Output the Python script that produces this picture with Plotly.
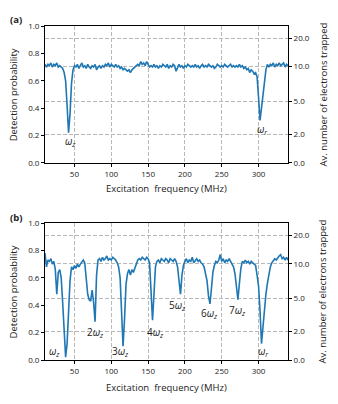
import numpy as np
import plotly.graph_objects as go

# excitation frequency grid (MHz), shared by both panels
freq = np.arange(10, 341, 2)

# (a) detection probability
prob_a = [
    0.72, 0.70, 0.72, 0.71, 0.73, 0.70, 0.72, 0.71, 0.73, 0.70,   # 10-28
    0.71, 0.70, 0.69, 0.66, 0.60, 0.42, 0.22, 0.36, 0.58, 0.68,   # 30-48
    0.71, 0.70, 0.72, 0.69, 0.71, 0.73, 0.70, 0.71, 0.69, 0.72,   # 50-68
    0.70, 0.69, 0.71, 0.70, 0.72, 0.68, 0.70, 0.71, 0.69, 0.71,   # 70-88
    0.70, 0.72, 0.71, 0.73, 0.70, 0.72, 0.71, 0.70, 0.72, 0.70,   # 90-108
    0.71, 0.69, 0.70, 0.68, 0.69, 0.68, 0.67, 0.68, 0.66, 0.68,   # 110-128
    0.69, 0.70, 0.71, 0.72, 0.71, 0.74, 0.72, 0.73, 0.71, 0.74,   # 130-148
    0.72, 0.70, 0.71, 0.70, 0.72, 0.70, 0.71, 0.69, 0.71, 0.70,   # 150-168
    0.72, 0.71, 0.70, 0.72, 0.69, 0.71, 0.70, 0.72, 0.71, 0.67,   # 170-188
    0.70, 0.72, 0.70, 0.71, 0.69, 0.71, 0.70, 0.72, 0.71, 0.70,   # 190-208
    0.71, 0.70, 0.72, 0.70, 0.71, 0.69, 0.71, 0.72, 0.70, 0.71,   # 210-228
    0.70, 0.72, 0.71, 0.70, 0.71, 0.69, 0.70, 0.72, 0.71, 0.70,   # 230-248
    0.71, 0.70, 0.72, 0.71, 0.70, 0.71, 0.72, 0.70, 0.71, 0.70,   # 250-268
    0.71, 0.70, 0.72, 0.70, 0.71, 0.69, 0.70, 0.68, 0.69, 0.66,   # 270-288
    0.68, 0.67, 0.65, 0.66, 0.63, 0.48, 0.31, 0.40, 0.50, 0.60,   # 290-308
    0.68, 0.72, 0.70, 0.72, 0.71, 0.73, 0.70, 0.72, 0.71, 0.73,   # 310-328
    0.71, 0.72, 0.73, 0.70, 0.72, 0.71,                           # 330-340
]

# (b) detection probability
prob_b = [
    0.78, 0.68, 0.73, 0.72, 0.74, 0.70, 0.72, 0.66, 0.48, 0.64,   # 10-28
    0.66, 0.60, 0.42, 0.26, 0.02, 0.12, 0.33, 0.58, 0.68, 0.66,   # 30-48
    0.69, 0.67, 0.70, 0.68, 0.70, 0.72, 0.73, 0.71, 0.58, 0.48,   # 50-68
    0.44, 0.43, 0.51, 0.42, 0.28, 0.62, 0.73, 0.74, 0.72, 0.75,   # 70-88
    0.73, 0.74, 0.76, 0.73, 0.74, 0.73, 0.75, 0.74, 0.73, 0.71,   # 90-108
    0.68, 0.60, 0.40, 0.10, 0.30, 0.55, 0.63, 0.66, 0.62, 0.66,   # 110-128
    0.64, 0.67, 0.70, 0.73, 0.74, 0.73, 0.75, 0.74, 0.73, 0.75,   # 130-148
    0.74, 0.71, 0.52, 0.29, 0.48, 0.68, 0.72, 0.73, 0.71, 0.74,   # 150-168
    0.73, 0.72, 0.74, 0.73, 0.71, 0.74, 0.73, 0.72, 0.74, 0.72,   # 170-188
    0.68, 0.60, 0.48, 0.62, 0.69, 0.72, 0.74, 0.71, 0.73, 0.72,   # 190-208
    0.75, 0.71, 0.73, 0.74, 0.72, 0.73, 0.71, 0.70, 0.68, 0.64,   # 210-228
    0.58, 0.47, 0.41, 0.52, 0.64, 0.69, 0.72, 0.71, 0.73, 0.77,   # 230-248
    0.72, 0.74, 0.71, 0.73, 0.72, 0.74, 0.72, 0.70, 0.68, 0.63,   # 250-268
    0.52, 0.44, 0.56, 0.67, 0.72, 0.71, 0.73, 0.71, 0.72, 0.70,   # 270-288
    0.72, 0.71, 0.70, 0.69, 0.62, 0.54, 0.36, 0.12, 0.24, 0.38,   # 290-308
    0.48, 0.56, 0.63, 0.68, 0.71, 0.73, 0.74, 0.73, 0.75, 0.76,   # 310-328
    0.77, 0.74, 0.75, 0.73, 0.75, 0.73,                           # 330-340
]

# right axis: electrons trapped, drawn at these probability levels
electron_pos = [0.0, 0.211, 0.451, 0.703, 0.912]
electron_labels = ["0.0", "2.0", "5.0", "10.0", "20.0"]

# peak labels (text, freq, prob)
labels_a = [("<i>ω<sub>z</sub></i>", 44, 0.155), ("<i>ω<sub>r</sub></i>", 305, 0.245)]
labels_b = [
    ("<i>ω<sub>z</sub></i>", 23.5, 0.065),
    ("2<i>ω<sub>z</sub></i>", 78, 0.2),
    ("3<i>ω<sub>z</sub></i>", 113, 0.06),
    ("4<i>ω<sub>z</sub></i>", 160, 0.2),
    ("5<i>ω<sub>z</sub></i>", 190, 0.395),
    ("6<i>ω<sub>z</sub></i>", 233, 0.343),
    ("7<i>ω<sub>z</sub></i>", 271.5, 0.36),
    ("<i>ω<sub>r</sub></i>", 306, 0.06),
]

blue = "#1f77b4"
grid = "#b8b8b8"
ink = "#222"
tickfont = dict(size=8, color=ink)
titlefont = dict(size=9.5, color=ink)

fig = go.Figure()
fig.add_trace(go.Scatter(x=freq, y=prob_a, mode="lines", line=dict(color=blue, width=1.6),
                         xaxis="x", yaxis="y", showlegend=False))
fig.add_trace(go.Scatter(x=[None], y=[None], xaxis="x", yaxis="y2", showlegend=False))
fig.add_trace(go.Scatter(x=freq, y=prob_b, mode="lines", line=dict(color=blue, width=1.6),
                         xaxis="x2", yaxis="y3", showlegend=False))
fig.add_trace(go.Scatter(x=[None], y=[None], xaxis="x2", yaxis="y4", showlegend=False))

xax = dict(range=[10, 340], tick0=50, dtick=50, showgrid=True, gridcolor=grid, griddash="4px,2px",
           gridwidth=0.8, showline=True, linecolor="black", linewidth=1, mirror=True,
           ticks="outside", ticklen=3, tickcolor="black", tickfont=tickfont, zeroline=False)
yl = dict(range=[0, 1], tickvals=[0, 0.2, 0.4, 0.6, 0.8, 1.0], tickformat=".1f", showgrid=False,
          showline=True, linecolor="black", linewidth=1, ticks="outside", ticklen=3,
          tickcolor="black", tickfont=tickfont, zeroline=False)
yr = dict(range=[0, 1], tickvals=electron_pos, ticktext=electron_labels, side="right",
          showgrid=True, gridcolor=grid, griddash="4px,2px", gridwidth=0.8,
          showline=True, linecolor="black", linewidth=1, ticks="outside", ticklen=3,
          tickcolor="black", tickfont=tickfont, zeroline=False)

# the page body adds an 8px offset, so the figure is 8px smaller than the window
fig.update_layout(
    width=330, height=396,
    margin=dict(l=37, r=50, t=13, b=44),
    paper_bgcolor="white", plot_bgcolor="white",
    font=dict(family="Open Sans", color=ink),
    xaxis=dict(xax, anchor="y"),
    yaxis=dict(yl, domain=[0.59, 1], anchor="x"),
    yaxis2=dict(yr, domain=[0.59, 1], anchor="x", overlaying="y"),
    xaxis2=dict(xax, anchor="y3"),
    yaxis3=dict(yl, domain=[0, 0.41], anchor="x2"),
    yaxis4=dict(yr, domain=[0, 0.41], anchor="x2", overlaying="y3"),
)

for txt, x, y in labels_a:
    fig.add_annotation(text=txt, x=x, y=y, xref="x", yref="y", showarrow=False,
                       font=dict(size=10, color=ink))
for txt, x, y in labels_b:
    fig.add_annotation(text=txt, x=x, y=y, xref="x2", yref="y3", showarrow=False,
                       font=dict(size=10, color=ink))

# axis titles and panel letters
c = dict(xref="paper", yref="paper", xanchor="center", yanchor="middle", showarrow=False)
for yc, yx, letter, ly in [(0.795, 0.513, "(a)", 1.018), (0.205, -0.083, "(b)", 0.428)]:
    fig.add_annotation(text="Detection probability", x=-0.128, y=yc, textangle=-90,
                       font=titlefont, **c)
    fig.add_annotation(text="Av. number of electrons trapped", x=1.144, y=yc, textangle=-90,
                       font=titlefont, **c)
    fig.add_annotation(text="Excitation\u00a0 frequency (MHz)", x=0.5, y=yx,
                       font=titlefont, **c)
    fig.add_annotation(text="<b>" + letter + "</b>", x=-0.12, y=ly,
                       font=dict(size=9.5, color=ink), **c)

fig.write_html("out.html")
